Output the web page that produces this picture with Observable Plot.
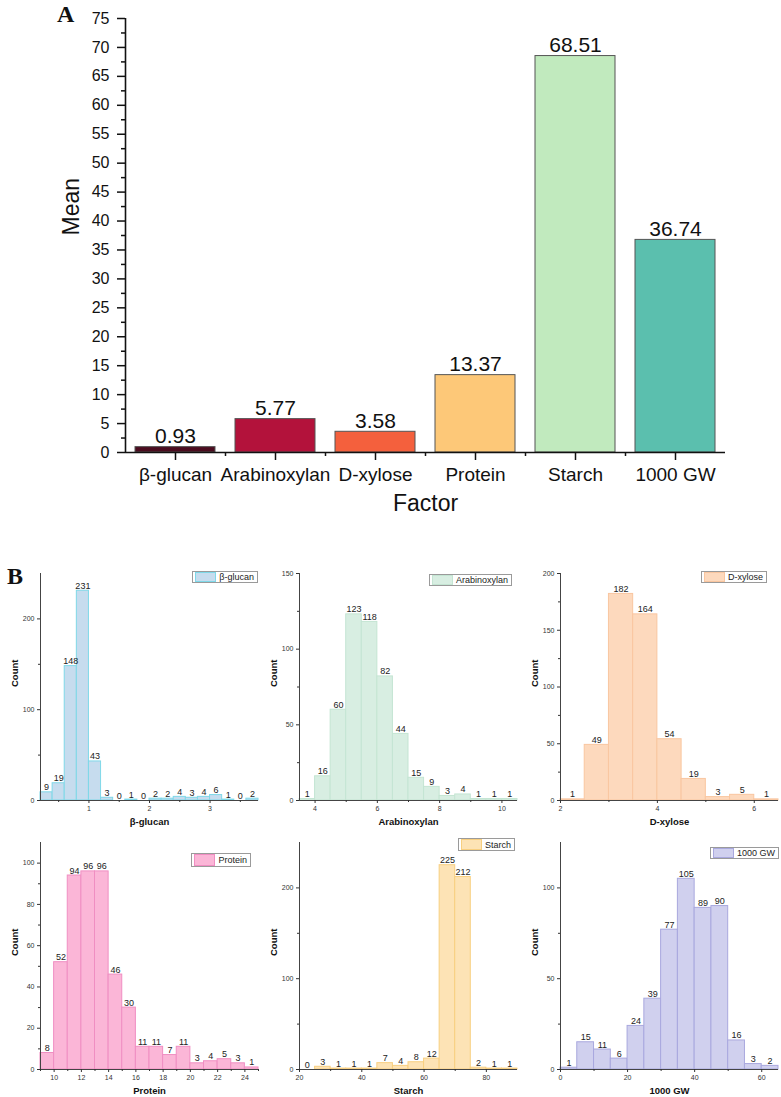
<!DOCTYPE html>
<html><head><meta charset="utf-8">
<script src="https://cdn.jsdelivr.net/npm/d3@7"></script>
<script src="https://cdn.jsdelivr.net/npm/@observablehq/plot@0.6"></script>
<style>
body{margin:0;background:#fff;}
#fig{position:relative;width:781px;height:1097px;overflow:hidden;background:#fff;font-family:"Liberation Sans",Arial,sans-serif;}
.panel{position:absolute;}
.panel svg{overflow:visible;display:block;}
.plab{position:absolute;font-family:"Liberation Serif","Times New Roman",serif;font-weight:bold;font-size:24px;line-height:24px;color:#111;}
.leg{position:absolute;display:flex;align-items:center;border:1px solid #9a9a9a;background:#fff;box-sizing:border-box;font-size:9px;color:#222;white-space:nowrap;padding-right:3px;}
.leg .sw{box-sizing:border-box;margin:0 3px 0 2px;width:21px;}
</style></head><body><div id="fig"></div>
<script>
// ---------- Panel A data ----------
const categories = ["β-glucan", "Arabinoxylan", "D-xylose", "Protein", "Starch", "1000 GW"];
const means = [0.93, 5.77, 3.58, 13.37, 68.51, 36.74];
const meanLabels = ["0.93", "5.77", "3.58", "13.37", "68.51", "36.74"];
const barColors = ["#4b0c1f", "#b3123b", "#f4603d", "#fdc878", "#c1eabe", "#5bbfae"];
const yTicksA = [0, 5, 10, 15, 20, 25, 30, 35, 40, 45, 50, 55, 60, 65, 70, 75];
const yMinorA = [2.5, 7.5, 12.5, 17.5, 22.5, 27.5, 32.5, 37.5, 42.5, 47.5, 52.5, 57.5, 62.5, 67.5, 72.5];

// ---------- Panel B data (histograms) ----------
const glucanStarts = [0.2, 0.4, 0.6, 0.8, 1.0, 1.2, 1.4, 1.6, 1.8, 2.0, 2.2, 2.4, 2.6, 2.8, 3.0, 3.2, 3.4, 3.6];
const glucanCounts = [9, 19, 148, 231, 43, 3, 0, 1, 0, 2, 2, 4, 3, 4, 6, 1, 0, 2];
const arabStarts = [3.5, 4, 4.5, 5, 5.5, 6, 6.5, 7, 7.5, 8, 8.5, 9, 9.5, 10];
const arabCounts = [1, 16, 60, 123, 118, 82, 44, 15, 9, 3, 4, 1, 1, 1];
const xyloseStarts = [2, 2.5, 3, 3.5, 4, 4.5, 5, 5.5, 6];
const xyloseCounts = [1, 49, 182, 164, 54, 19, 3, 5, 1];
const proteinStarts = [9, 10, 11, 12, 13, 14, 15, 16, 17, 18, 19, 20, 21, 22, 23, 24];
const proteinCounts = [8, 52, 94, 96, 96, 46, 30, 11, 11, 7, 11, 3, 4, 5, 3, 1];
const starchStarts = [20, 25, 30, 35, 40, 45, 50, 55, 60, 65, 70, 75, 80, 85];
const starchCounts = [0, 3, 1, 1, 1, 7, 4, 8, 12, 225, 212, 2, 1, 1];
const gwStarts = [0, 5, 10, 15, 20, 25, 30, 35, 40, 45, 50, 55, 60];
const gwCounts = [1, 15, 11, 6, 24, 39, 77, 105, 89, 90, 16, 3, 2];

const FONT = '"Liberation Sans", Arial, sans-serif';
const fig = document.getElementById("fig");
const plain = d => String(d);

function place(el, left, top, cls) {
  const d = document.createElement("div");
  d.className = cls || "panel";
  d.style.left = left + "px";
  d.style.top = top + "px";
  d.appendChild(el);
  fig.appendChild(d);
  return d;
}

// ---------- Panel A ----------
const rowsA = categories.map((c, i) => ({i, cat: c, mean: means[i], label: meanLabels[i], color: barColors[i]}));
const idx = categories.map((_, i) => i);
const between = categories.slice(1).map((_, i) => i + 0.5);

const plotA = Plot.plot({
  width: 781, height: 530,
  marginLeft: 125, marginRight: 56, marginTop: 18, marginBottom: 78,
  style: {fontFamily: FONT, color: "#111", background: "transparent", overflow: "visible"},
  x: {domain: [-0.5, 5.5]},
  y: {domain: [0, 75]},
  color: {type: "identity"},
  marks: [
    Plot.rectY(rowsA, {x1: d => d.i - 0.4, x2: d => d.i + 0.4, y: "mean", fill: "color", stroke: "#555", strokeWidth: 1}),
    Plot.text(rowsA, {x: "i", y: "mean", text: "label", lineAnchor: "bottom", dy: -4, fontSize: 21, fill: "#111"}),
    Plot.ruleX([-0.5], {stroke: "#111", strokeWidth: 1.6}),
    Plot.ruleY([0], {stroke: "#111", strokeWidth: 1.6}),
    Plot.axisY({ticks: yTicksA, tickFormat: plain, tickSize: 8, tickPadding: 8, fontSize: 16, label: null, strokeWidth: 1.5}),
    Plot.axisY({ticks: yMinorA, tickSize: 4, tickFormat: () => "", label: null, strokeWidth: 1.5}),
    Plot.axisX({ticks: idx, tickFormat: i => categories[i], tickSize: 8, tickPadding: 7, fontSize: 19, label: null, strokeWidth: 1.5}),
    Plot.axisX({ticks: between, tickSize: 4, tickFormat: () => "", label: null, strokeWidth: 1.5}),
    Plot.text(["Mean"], {frameAnchor: "left", dx: -54, rotate: -90, fontSize: 23, fill: "#111"}),
    Plot.text(["Factor"], {frameAnchor: "bottom", dy: 58, fontSize: 23, fill: "#111"})
  ]
});
place(plotA, 0, 0);

// ---------- Panel B ----------
function hist(o) {
  const rows = o.starts.map((s, i) => ({x1: s, x2: s + o.binWidth, count: o.counts[i]}));
  return Plot.plot({
    width: 260, height: 270,
    marginLeft: 40, marginRight: 2, marginTop: 15, marginBottom: 28,
    style: {fontFamily: FONT, color: "#333", background: "transparent", overflow: "visible"},
    x: {domain: o.xDomain},
    y: {domain: o.yDomain},
    marks: [
      Plot.rectY(rows, {x1: "x1", x2: "x2", y: "count", fill: o.fill, stroke: o.stroke, strokeWidth: 1}),
      Plot.text(rows, {x: d => (d.x1 + d.x2) / 2, y: "count", text: d => String(d.count), lineAnchor: "bottom", dy: -2, fontSize: 9, fill: "#222"}),
      Plot.ruleX([o.xDomain[0]], {stroke: "#444", strokeWidth: 1}),
      Plot.ruleY([0], {stroke: "#444", strokeWidth: 1}),
      Plot.axisY({ticks: o.yTicks, tickFormat: plain, tickSize: 3, tickPadding: 3, fontSize: 7, label: null}),
      Plot.axisY({ticks: o.yMinor, tickSize: 2, tickFormat: () => "", label: null}),
      Plot.axisX({ticks: o.xTicks, tickFormat: plain, tickSize: 3, tickPadding: 3, fontSize: 7, label: null}),
      Plot.axisX({ticks: o.xMinor, tickSize: 2, tickFormat: () => "", label: null}),
      Plot.text(["Count"], {frameAnchor: "left", dx: -26, rotate: -90, fontWeight: "bold", fontSize: 9.5, fill: "#111"}),
      Plot.text([o.name], {frameAnchor: "bottom", dy: 24, fontWeight: "bold", fontSize: 9.5, fill: "#111"})
    ]
  });
}

function legend(name, fill, stroke, right, top, h) {
  const d = document.createElement("div");
  d.className = "leg";
  d.style.top = top + "px";
  d.style.right = (781 - right) + "px";
  d.style.height = h + "px";
  const sw = document.createElement("span");
  sw.className = "sw";
  sw.style.height = (h - 2) + "px";
  sw.style.background = fill;
  sw.style.border = "1px solid " + stroke;
  const t = document.createElement("span");
  t.textContent = name;
  d.appendChild(sw);
  d.appendChild(t);
  fig.appendChild(d);
}

const hists = [
  {name: "β-glucan", starts: glucanStarts, counts: glucanCounts, binWidth: 0.2, xDomain: [0.2, 3.8], yDomain: [0, 250],
   xTicks: [1, 2, 3], xMinor: [0.5, 1.5, 2.5, 3.5], yTicks: [0, 100, 200], yMinor: [50, 150],
   fill: "#c6dcee", stroke: "#7fd8e8", left: 0, top: 558, leg: [258, 571, 12]},
  {name: "Arabinoxylan", starts: arabStarts, counts: arabCounts, binWidth: 0.5, xDomain: [3.5, 10.5], yDomain: [0, 150],
   xTicks: [4, 6, 8, 10], xMinor: [5, 7, 9], yTicks: [0, 50, 100, 150], yMinor: [25, 75, 125],
   fill: "#d8eee2", stroke: "#c4e5d3", left: 259, top: 558, leg: [512, 574, 12]},
  {name: "D-xylose", starts: xyloseStarts, counts: xyloseCounts, binWidth: 0.5, xDomain: [2, 6.5], yDomain: [0, 200],
   xTicks: [2, 4, 6], xMinor: [3, 5], yTicks: [0, 50, 100, 150, 200], yMinor: [25, 75, 125, 175],
   fill: "#fdd9bd", stroke: "#f9c6a0", left: 520, top: 558, leg: [767, 571, 12]},
  {name: "Protein", starts: proteinStarts, counts: proteinCounts, binWidth: 1, xDomain: [9, 25], yDomain: [0, 110],
   xTicks: [10, 12, 14, 16, 18, 20, 22, 24], xMinor: [9, 11, 13, 15, 17, 19, 21, 23, 25], yTicks: [0, 20, 40, 60, 80, 100], yMinor: [10, 30, 50, 70, 90],
   fill: "#fbb6d7", stroke: "#f08ec2", left: 0, top: 827, leg: [251, 853, 14]},
  {name: "Starch", starts: starchStarts, counts: starchCounts, binWidth: 5, xDomain: [20, 90], yDomain: [0, 250],
   xTicks: [20, 40, 60, 80], xMinor: [30, 50, 70], yTicks: [0, 100, 200], yMinor: [50, 150],
   fill: "#fde3b5", stroke: "#f8cf80", left: 259, top: 827, leg: [515, 838, 13]},
  {name: "1000 GW", starts: gwStarts, counts: gwCounts, binWidth: 5, xDomain: [0, 65], yDomain: [0, 125],
   xTicks: [0, 20, 40, 60], xMinor: [10, 30, 50], yTicks: [0, 50, 100], yMinor: [25, 75],
   fill: "#d0d0ee", stroke: "#a9a8de", left: 520, top: 827, leg: [779, 847, 12]}
];

for (const h of hists) {
  place(hist(h), h.left, h.top);
}
for (const h of hists) {
  legend(h.name, h.fill, h.stroke, h.leg[0], h.leg[1], h.leg[2]);
}

// Panel letters
const la = document.createElement("div"); la.textContent = "A"; la.className = "plab"; la.style.left = "57px"; la.style.top = "2px"; fig.appendChild(la);
const lb = document.createElement("div"); lb.textContent = "B"; lb.className = "plab"; lb.style.left = "7px"; lb.style.top = "564px"; fig.appendChild(lb);
</script>
</body></html>
